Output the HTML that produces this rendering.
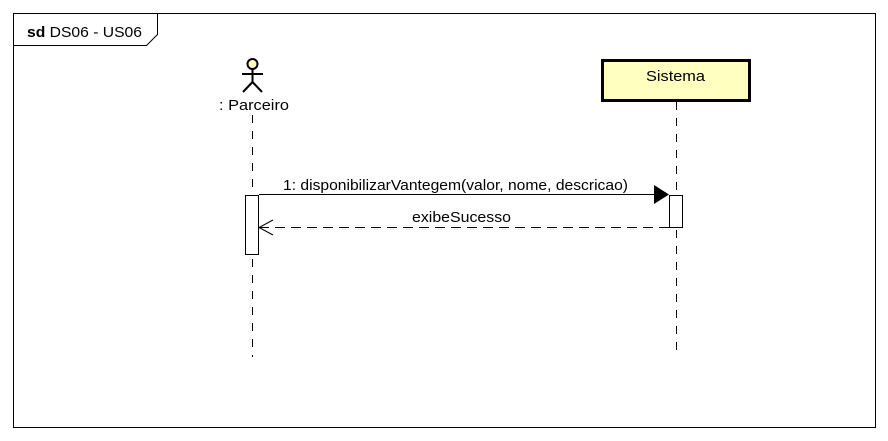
<!DOCTYPE html>
<html><head><meta charset="utf-8"><style>
html,body{margin:0;padding:0;background:#fff;}
svg{display:block;}
text{font-family:"Liberation Sans",Arial,sans-serif;font-size:15px;fill:#000;}
</style></head><body>
<svg width="888" height="441" viewBox="0 0 888 441" xmlns="http://www.w3.org/2000/svg">
<rect x="13.5" y="13.5" width="862" height="414" fill="#fff" stroke="#000" stroke-width="1"/>
<path d="M13.5 45.5 H146.5 L157.5 34.5 V13.5" fill="none" stroke="#000"/>
<text x="27" y="37" textLength="115" lengthAdjust="spacingAndGlyphs"><tspan font-weight="bold">sd</tspan> DS06 - US06</text>
<!-- actor -->
<circle cx="252.5" cy="64" r="5" fill="#ffffc0" stroke="#000" stroke-width="2"/>
<line x1="252.5" y1="69" x2="252.5" y2="82" stroke="#000" stroke-width="2"/>
<line x1="242" y1="74" x2="263" y2="74" stroke="#000" stroke-width="2"/>
<line x1="252.5" y1="82" x2="243" y2="92" stroke="#000" stroke-width="2"/>
<line x1="252.5" y1="82" x2="262" y2="92" stroke="#000" stroke-width="2"/>
<text x="219" y="110" textLength="70" lengthAdjust="spacingAndGlyphs">: Parceiro</text>
<line x1="252.5" y1="115" x2="252.5" y2="357" stroke="#000" stroke-dasharray="8,8"/>
<!-- Sistema -->
<rect x="602.5" y="60.5" width="147" height="40" fill="#ffffc0" stroke="#000" stroke-width="3"/>
<text x="646" y="81" textLength="59" lengthAdjust="spacingAndGlyphs">Sistema</text>
<line x1="676.5" y1="102" x2="676.5" y2="357" stroke="#000" stroke-dasharray="8,8"/>
<!-- activations -->
<rect x="245.5" y="195.5" width="13" height="59" fill="#fff" stroke="#000"/>
<rect x="669.5" y="195.5" width="13" height="32" fill="#fff" stroke="#000"/>
<!-- message -->
<line x1="259" y1="194.5" x2="656" y2="194.5" stroke="#000"/>
<polygon points="654,185 669,194.5 654,204" fill="#000"/>
<text x="283" y="190" textLength="345" lengthAdjust="spacingAndGlyphs">1: disponibilizarVantegem(valor, nome, descricao)</text>
<!-- return -->
<line x1="669" y1="227.5" x2="260" y2="227.5" stroke="#000" stroke-dasharray="10,6"/>
<polyline points="273,220 259,227.5 273,235" fill="none" stroke="#000"/>
<text x="412" y="222" textLength="99" lengthAdjust="spacingAndGlyphs">exibeSucesso</text>
</svg>
</body></html>
